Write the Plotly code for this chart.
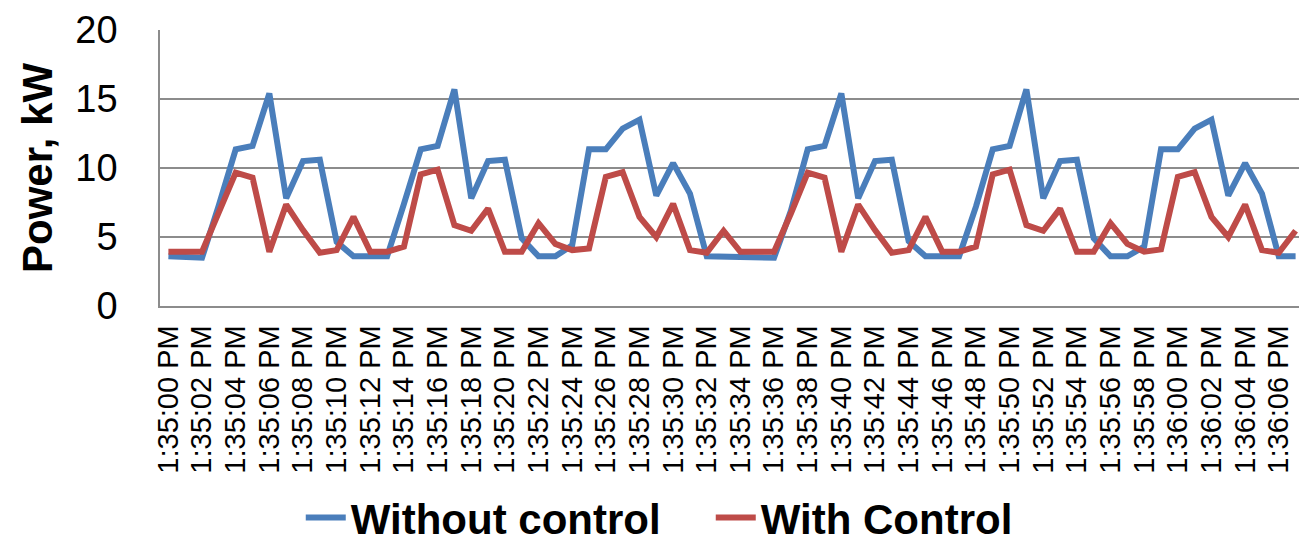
import plotly.graph_objects as go

# categories: one sample per second, 1:35:00 PM .. 1:36:07 PM
times = [f"1:{35 + s // 60}:{s % 60:02d} PM" for s in range(68)]
tick_labels = times[::2]

without_control = [
    3.6, 3.6, 3.5, 7.3, 11.35, 11.6, 15.4, 7.8, 10.5, 10.6,
    4.65, 3.6, 3.6, 3.6, 7.4, 11.35, 11.6, 15.7, 7.8, 10.5,
    10.6, 4.9, 3.6, 3.6, 4.4, 11.35, 11.35, 12.85, 13.5, 8.0,
    10.35, 8.15, 3.6, 3.6, 3.6, 3.6, 3.5, 6.9, 11.35, 11.6,
    15.4, 7.8, 10.5, 10.6, 4.7, 3.6, 3.6, 3.6, 7.2, 11.35,
    11.6, 15.7, 7.8, 10.5, 10.6, 4.9, 3.6, 3.6, 4.3, 11.35,
    11.35, 12.85, 13.5, 8.0, 10.35, 8.15, 3.6, 3.6,
]
with_control = [
    3.93, 3.93, 3.93, 6.8, 9.66, 9.3, 3.93, 7.35, 5.5, 3.86,
    4.05, 6.46, 3.93, 3.93, 4.3, 9.54, 9.88, 5.86, 5.45, 7.06,
    3.93, 3.93, 6.0, 4.5, 4.05, 4.17, 9.35, 9.7, 6.46, 5.0,
    7.4, 4.05, 3.86, 5.45, 3.93, 3.93, 3.93, 6.7, 9.66, 9.3,
    3.93, 7.35, 5.5, 3.86, 4.05, 6.46, 3.93, 3.93, 4.3, 9.54,
    9.88, 5.86, 5.45, 7.06, 3.93, 3.93, 6.0, 4.5, 3.93, 4.1,
    9.35, 9.7, 6.46, 5.0, 7.35, 4.05, 3.86, 5.45,
]

BLUE = "#4A7EBB"
RED = "#BE4B48"
GRID = "#8C8C8C"
FONT = "Liberation Sans, Arial, sans-serif"

fig = go.Figure()
fig.add_trace(go.Scatter(x=times, y=without_control, mode="lines", name="Without control",
                         line=dict(color=BLUE, width=6, shape="linear")))
fig.add_trace(go.Scatter(x=times, y=with_control, mode="lines", name="With Control",
                         line=dict(color=RED, width=6, shape="linear")))

fig.update_layout(
    width=1299, height=531,
    margin=dict(l=152, r=3, t=22, b=233, autoexpand=False),
    paper_bgcolor="white", plot_bgcolor="white",
    font=dict(family=FONT, color="black"),
    showlegend=True,
    legend=dict(orientation="h", xref="container", yref="container",
                x=0.541, xanchor="center", y=0.04, yanchor="middle",
                font=dict(size=42, family=FONT, weight="bold"),
                itemwidth=40, entrywidth=355, tracegroupgap=0, bgcolor="rgba(0,0,0,0)"),
)
fig.update_xaxes(
    type="category", categoryorder="array", categoryarray=times,
    range=[-0.5, len(times) - 0.5],
    tickmode="array", tickvals=tick_labels, ticktext=tick_labels,
    tickangle=-90, tickfont=dict(size=29, family=FONT),
    showgrid=False, showline=True, linecolor=GRID, linewidth=1.5,
    ticks="", ticklabelstandoff=6, zeroline=False, automargin=False,
)
fig.update_yaxes(
    range=[0, 20], tickvals=[0, 5, 10, 15, 20], ticktext=["0", "5", "10", "15", "20"],
    tickfont=dict(size=38, family=FONT),
    showgrid=True, gridcolor=GRID, gridwidth=1.5,
    showline=True, linecolor=GRID, linewidth=1.5,
    ticks="", ticklabelstandoff=33, zeroline=False, automargin=False,
    title=dict(text="<b>Power, kW</b>", font=dict(size=42, family=FONT), standoff=10),
)

fig.write_html("out.html")
